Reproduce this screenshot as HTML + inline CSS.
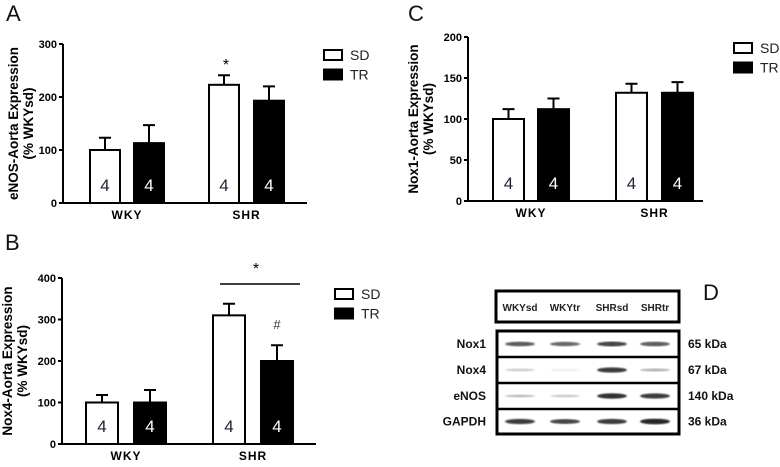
<!DOCTYPE html>
<html><head><meta charset="utf-8"><style>
body{margin:0;background:#fff;width:780px;height:462px;overflow:hidden}
svg{font-family:"Liberation Sans",Arial,sans-serif}
</style></head><body>
<svg id="fig" width="780" height="462" xmlns="http://www.w3.org/2000/svg">
<defs><filter id="bl"><feGaussianBlur stdDeviation="0.8"/></filter></defs>
</svg>
<script>
const groups=["WKY","SHR"];
const series=["SD","TR"];
const aVals=[[100,113],[223,193]];
const aErr=[[123,147],[241,220]];
const bVals=[[100,100],[310,200]];
const bErr=[[118,130],[338,238]];
const cVals=[[100,112],[132,132]];
const cErr=[[112,125],[143,145]];
const nLabels=[["4","4"],["4","4"]];
const aTicks=[0,100,200,300];
const bTicks=[0,100,200,300,400];
const cTicks=[0,50,100,150,200];
const blotLanes=["WKYsd","WKYtr","SHRsd","SHRtr"];
const blotRows=["Nox1","Nox4","eNOS","GAPDH"];
const blotKda=["65 kDa","67 kDa","140 kDa","36 kDa"];
const blotIntensity=[[0.75,0.7,0.85,0.75],[0.25,0.1,0.9,0.35],[0.3,0.25,0.95,0.9],[0.9,0.85,0.9,1]];

const svg=document.getElementById('fig');
const NS="http://www.w3.org/2000/svg";
function mk(t,a,p){const e=document.createElementNS(NS,t);for(const k in a)e.setAttribute(k,a[k]);(p||svg).appendChild(e);return e;}
function txt(s,a,p){const e=mk('text',a,p);e.textContent=s;return e;}

function panel(cfg){
  const g=mk('g',{});
  
  
  const max=cfg.ticks[cfg.ticks.length-1];
  const y=v=>cfg.y0-(v/max)*(cfg.y0-cfg.yTop);
  const L=txt(cfg.letter,{x:cfg.lx,y:cfg.ly,'font-size':22,fill:'#111'},g);
  
  const ax=mk('line',{x1:cfg.ax,y1:cfg.yTop,x2:cfg.ax,y2:cfg.y0,stroke:'#000','stroke-width':2},g);
  
  const xa=mk('line',{x1:cfg.ax,y1:cfg.y0,x2:cfg.axEnd,y2:cfg.y0,stroke:'#000','stroke-width':2},g);
  
  cfg.ticks.forEach(t=>{
    mk('line',{x1:cfg.ax-4,y1:y(t),x2:cfg.ax,y2:y(t),stroke:'#000','stroke-width':2},g);
    const tl=txt(String(t),{x:cfg.ax-6,y:y(t)+4,'font-size':11,'font-weight':'bold','text-anchor':'end'},g);
    
  });
  const yt=txt(cfg.title1,{x:0,y:0,'font-size':13.5,'font-weight':'bold','text-anchor':'middle',transform:`translate(${cfg.tx},${(cfg.yTop+cfg.y0)/2}) rotate(-90)`},g);
  
  const yt2=txt("(% WKYsd)",{x:0,y:0,'font-size':13.5,'font-weight':'bold','text-anchor':'middle',transform:`translate(${cfg.tx+15},${(cfg.yTop+cfg.y0)/2}) rotate(-90)`},g);
  
  groups.forEach((gn,gi)=>{
    series.forEach((s,si)=>{
      const x=cfg.bx[gi][si], w=cfg.bw, v=cfg.vals[gi][si], e=cfg.err[gi][si];
      const eb=mk('path',{d:`M${x+w/2},${y(v)} V${y(e)} M${x+w/2-6},${y(e)} H${x+w/2+6}`,stroke:'#000','stroke-width':2,fill:'none'},g);
      
      const r=mk('rect',{x:x,y:y(v),width:w,height:cfg.y0-y(v),fill:si?'#000':'#fff',stroke:'#000','stroke-width':2},g);
      
      const n=txt(nLabels[gi][si],{x:x+w/2,y:cfg.y0-12,'font-size':17,'text-anchor':'middle',fill:si?'#fff':'#223'},g);
      
    });
    const cx=(cfg.bx[gi][0]+cfg.bx[gi][1]+cfg.bw)/2;
    const cl=txt(gn,{x:cx,y:cfg.y0+16,'font-size':12,'font-weight':'bold','text-anchor':'middle','letter-spacing':1},g);
    
  });
  series.forEach((s,si)=>{
    const ly=cfg.legY+si*19.5;
    const lr=mk('rect',{x:cfg.legX,y:ly,width:18,height:10,fill:si?'#000':'#fff',stroke:'#000','stroke-width':2},g);
    
    const lt=txt(s,{x:cfg.legX+26,y:ly+10,'font-size':14,fill:'#222'},g);
    
  });
  return {g,y};
}

const A=panel({name:'panel-a-enos',letter:'A',lx:6,ly:21,ax:63,axEnd:307,yTop:44,y0:203,ticks:aTicks,vals:aVals,err:aErr,
  bx:[[90,134],[209,254]],bw:30,tx:18,title1:"eNOS-Aorta Expression",legX:324,legY:50});
let s=txt("*",{x:226,y:70,'font-size':16,'text-anchor':'middle'},A.g);


const B=panel({name:'panel-b-nox4',letter:'B',lx:5,ly:250,ax:62,axEnd:316,yTop:278,y0:444,ticks:bTicks,vals:bVals,err:bErr,
  bx:[[86,134],[213,261]],bw:32,tx:12,title1:"Nox4-Aorta Expression",legX:335,legY:289});
let ln=mk('line',{x1:220,y1:284,x2:300,y2:284,stroke:'#000','stroke-width':1.5},B.g);

s=txt("*",{x:256,y:274,'font-size':16,'text-anchor':'middle'},B.g);

s=txt("#",{x:277,y:329,'font-size':13,'text-anchor':'middle',fill:'#333'},B.g);


const C=panel({name:'panel-c-nox1',letter:'C',lx:408,ly:21,ax:468,axEnd:703,yTop:37,y0:201,ticks:cTicks,vals:cVals,err:cErr,
  bx:[[493,538],[616,662]],bw:31,tx:418,title1:"Nox1-Aorta Expression",legX:734,legY:43});

const D=mk('g',{});

txt("D",{x:703,y:300,'font-size':22,fill:'#111'},D);
const laneX=[520,565,612,655];
const hb=mk('rect',{x:496,y:291,width:183,height:31,fill:'#fff',stroke:'#000','stroke-width':3},D);

blotLanes.forEach((l,i)=>{const t=txt(l,{x:laneX[i],y:311,'font-size':10,'font-weight':'bold','text-anchor':'middle',fill:'#222'},D);
  });
const rowY=[331,357,383,409,434];
const bb=mk('rect',{x:497,y:331,width:182,height:103,fill:'#fff',stroke:'#000','stroke-width':3},D);

[1,2,3].forEach(i=>mk('line',{x1:497,y1:rowY[i],x2:679,y2:rowY[i],stroke:'#000','stroke-width':2.5},D));
blotRows.forEach((r,ri)=>{
  const cy=(rowY[ri]+rowY[ri+1])/2;
  const t=txt(r,{x:486,y:cy+4,'font-size':12,'font-weight':'bold','text-anchor':'end',fill:'#111'},D);
  
  const k=txt(blotKda[ri],{x:688,y:cy+4,'font-size':12,'font-weight':'bold',fill:'#111'},D);
  
  blotIntensity[ri].forEach((v,li)=>{
    const b=mk('ellipse',{cx:laneX[li],cy:cy,rx:15,ry:0.8+v*2,fill:'#000',opacity:v*0.85,filter:'url(#bl)'},D);
    
  });
});
</script>
</body></html>
